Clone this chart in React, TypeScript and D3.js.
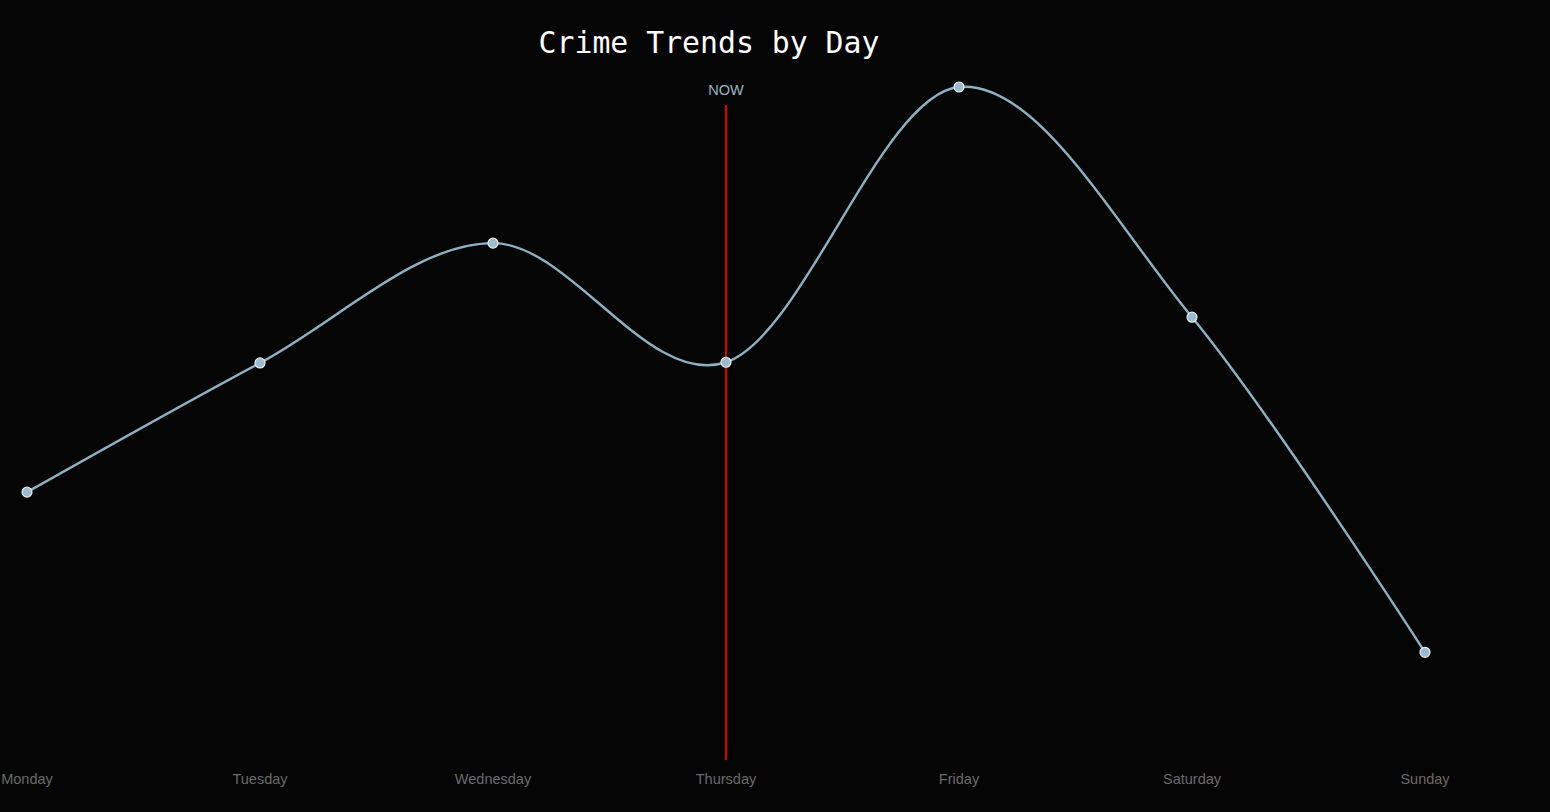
import React, { useEffect } from "react";
import * as d3 from "d3";

const days = ["Monday", "Tuesday", "Wednesday", "Thursday", "Friday", "Saturday", "Sunday"];
const crimes = [39.8, 59, 76.8, 59.1, 100, 65.8, 16];
const nowDay = "Thursday";

export default function App() {
  useEffect(() => {
    document.body.style.margin = "0";
    document.body.style.background = "#050505";
  }, []);
  const W = 1550, H = 812;
  const x = d3.scalePoint<string>().domain(days).range([27, 1425]);
  const y = d3.scaleLinear().domain([0, 100]).range([760, 87]);
  const line = d3.line<number>().x((_, i) => x(days[i])!).y(d => y(d)).curve(d3.curveCardinal);
  return (
    <svg width={W} height={H} style={{ display: "block", background: "#050505" }}>
      <text x={709} y={53} textAnchor="middle" fill="#fff" fontSize={29.8} fontFamily="DejaVu Sans Mono, monospace">Crime Trends by Day</text>
      <line x1={x(nowDay)} x2={x(nowDay)} y1={105} y2={760} stroke="#e00000" strokeWidth={2} />
      <text x={x(nowDay)} y={95} textAnchor="middle" fill="#9ab5c6" fontSize={14.5} fontFamily="Liberation Sans, Arial, sans-serif">NOW</text>
      <path d={line(crimes)!} fill="none" stroke="#8fb0c2" strokeWidth={2.4} />
      {crimes.map((v, i) => (
        <circle key={i} cx={x(days[i])} cy={y(v)} r={5} fill="#9dbbcc" stroke="#e8eef2" strokeWidth={1.2} />
      ))}
      {days.map(d => (
        <text key={d} x={x(d)} y={784} textAnchor="middle" fill="#6b6b6b" fontSize={14.5} fontFamily="Liberation Sans, Arial, sans-serif">{d}</text>
      ))}
    </svg>
  );
}
